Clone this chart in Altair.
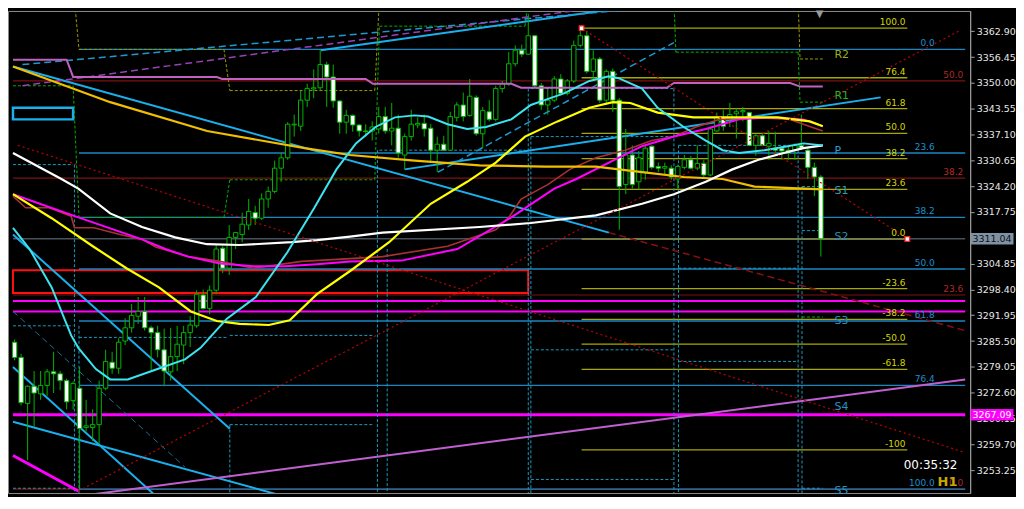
import altair as alt
import pandas as pd

# ---------------- candles (H1) ----------------
opens = [3285.2, 3281.4, 3269.9, 3274.2, 3272.3, 3274.4, 3277.8, 3277.3, 3275.6, 3270.6,
         3273.7, 3263.9, 3263.9, 3264.6, 3273.7, 3280.2, 3278.7, 3285.5, 3288.8, 3291.7,
         3292.9, 3288.8, 3287.6, 3283.3, 3277.8, 3281.6, 3284.5, 3287.6, 3289.3, 3297.0,
         3293.6, 3298.2, 3308.7, 3303.7, 3311.4, 3312.1, 3314.5, 3317.6, 3316.2, 3321.0,
         3322.9, 3328.7, 3331.3, 3339.5, 3339.2, 3345.7, 3348.5, 3348.8, 3354.6, 3351.5,
         3345.5, 3340.2, 3341.9, 3339.5, 3338.0, 3338.0, 3338.5, 3341.6, 3338.0, 3338.7,
         3332.0, 3336.6, 3339.5, 3339.9, 3338.7, 3333.2, 3334.7, 3333.2, 3341.4, 3344.5,
         3341.9, 3346.4, 3337.3, 3342.8, 3340.9, 3348.6, 3349.8, 3354.8, 3358.2, 3357.2,
         3361.8, 3349.3, 3344.5, 3345.7, 3351.0, 3347.4, 3350.5, 3359.4, 3361.8, 3352.9,
         3356.0, 3345.7, 3352.9, 3345.7, 3324.6, 3332.0, 3325.3, 3327.7, 3334.2, 3329.1,
         3328.7, 3328.7, 3326.0, 3328.9, 3330.8, 3328.7, 3329.9, 3327.0, 3338.0, 3341.4,
         3341.4, 3342.3, 3342.8, 3342.6, 3334.4, 3336.8, 3334.2, 3333.7, 3333.7, 3333.2,
         3333.2, 3334.4, 3333.2, 3328.9, 3326.5]
highs = [3285.9, 3282.3, 3274.4, 3278.0, 3278.0, 3278.5, 3282.8, 3278.0, 3276.1, 3275.4,
         3279.0, 3270.8, 3268.4, 3275.6, 3283.3, 3282.8, 3286.2, 3291.2, 3294.8, 3296.5,
         3296.5, 3289.3, 3289.3, 3288.6, 3288.8, 3289.3, 3289.3, 3291.7, 3298.2, 3298.4,
         3299.4, 3309.7, 3309.2, 3314.5, 3312.6, 3317.6, 3321.0, 3319.3, 3322.4, 3324.1,
         3330.6, 3332.5, 3340.2, 3342.1, 3348.1, 3349.8, 3353.4, 3358.2, 3355.3, 3354.6,
         3345.7, 3343.3, 3342.1, 3339.7, 3339.7, 3340.4, 3344.0, 3344.0, 3345.0, 3342.1,
         3337.3, 3343.3, 3341.4, 3342.1, 3339.7, 3336.6, 3336.8, 3342.8, 3345.2, 3347.6,
         3351.0, 3346.9, 3344.0, 3345.7, 3349.3, 3350.5, 3357.7, 3359.4, 3359.6, 3367.3,
         3362.0, 3350.0, 3348.6, 3351.7, 3352.2, 3351.0, 3360.6, 3363.7, 3363.0, 3358.2,
         3356.5, 3353.4, 3353.6, 3346.2, 3338.5, 3334.4, 3333.0, 3334.4, 3334.4, 3330.1,
         3330.1, 3329.4, 3329.6, 3332.0, 3331.8, 3334.4, 3330.8, 3339.0, 3342.6, 3343.3,
         3345.0, 3343.8, 3344.0, 3342.8, 3337.3, 3337.3, 3338.0, 3337.8, 3334.2, 3334.4,
         3334.9, 3342.1, 3333.7, 3330.1, 3327.0]
lows = [3280.7, 3269.4, 3255.7, 3264.1, 3270.8, 3271.8, 3272.5, 3273.2, 3268.4, 3268.4,
        3248.5, 3262.9, 3260.5, 3259.8, 3273.2, 3277.3, 3277.3, 3284.5, 3287.6, 3289.8,
        3288.1, 3278.0, 3281.4, 3274.2, 3275.6, 3278.0, 3279.7, 3284.0, 3288.8, 3293.4,
        3292.2, 3297.2, 3302.5, 3302.0, 3308.5, 3310.2, 3313.3, 3314.5, 3315.7, 3318.8,
        3322.4, 3325.3, 3330.8, 3336.6, 3338.0, 3344.0, 3346.2, 3348.1, 3344.0, 3343.8,
        3337.3, 3337.3, 3337.8, 3336.6, 3336.6, 3335.6, 3337.3, 3337.3, 3334.4, 3331.3,
        3328.4, 3335.6, 3338.7, 3336.6, 3330.1, 3327.7, 3333.0, 3333.0, 3340.4, 3340.4,
        3341.6, 3336.8, 3333.7, 3340.4, 3340.4, 3347.6, 3349.3, 3354.1, 3356.5, 3357.0,
        3348.8, 3343.3, 3342.1, 3345.2, 3346.9, 3346.9, 3350.0, 3358.9, 3352.4, 3350.5,
        3345.0, 3344.5, 3342.8, 3313.3, 3322.2, 3323.6, 3323.4, 3325.8, 3328.4, 3327.7,
        3327.0, 3325.8, 3323.6, 3328.4, 3328.4, 3328.2, 3326.5, 3326.7, 3337.8, 3338.0,
        3339.0, 3336.1, 3340.4, 3334.2, 3331.8, 3334.2, 3330.8, 3332.0, 3330.8, 3330.8,
        3330.8, 3333.2, 3326.0, 3321.7, 3306.6]
closes = [3281.4, 3270.1, 3274.2, 3272.5, 3274.4, 3277.8, 3277.3, 3275.6, 3270.3, 3274.9,
          3263.6, 3264.3, 3264.6, 3273.7, 3280.4, 3278.7, 3285.2, 3288.8, 3291.9, 3292.9,
          3288.8, 3287.6, 3283.3, 3278.0, 3281.6, 3284.7, 3287.6, 3289.5, 3297.2, 3293.6,
          3298.2, 3308.5, 3303.7, 3311.4, 3312.6, 3314.7, 3317.9, 3316.2, 3321.0, 3322.9,
          3328.7, 3331.3, 3339.7, 3339.7, 3345.7, 3348.6, 3348.8, 3354.6, 3351.5, 3345.5,
          3340.2, 3341.9, 3339.5, 3338.0, 3337.9, 3339.0, 3341.6, 3338.0, 3338.7, 3332.5,
          3336.6, 3339.7, 3339.9, 3338.5, 3333.2, 3334.7, 3333.2, 3341.6, 3344.5, 3341.6,
          3346.7, 3337.3, 3343.1, 3340.9, 3348.6, 3349.8, 3354.8, 3358.2, 3357.2, 3361.8,
          3349.3, 3344.5, 3345.7, 3351.0, 3347.4, 3350.5, 3359.4, 3361.8, 3352.9, 3356.0,
          3345.7, 3352.9, 3345.7, 3324.1, 3332.0, 3324.6, 3331.3, 3333.7, 3328.9, 3328.7,
          3329.1, 3326.5, 3329.1, 3330.8, 3328.7, 3329.9, 3327.0, 3338.5, 3341.4, 3339.2,
          3342.1, 3342.8, 3343.1, 3334.4, 3336.8, 3334.4, 3334.9, 3333.2, 3333.0, 3332.5,
          3334.4, 3333.7, 3328.9, 3326.5, 3311.04]

# ---------------- moving averages (bar index, price) ----------------
cyan_x = [-0.25, 2.3, 5.7, 8.7, 9.8, 12.5, 14.7, 17.4, 21.1, 26.2, 28.6, 30.7, 32.6, 37.1, 42.0,
          46.1, 49.5, 52.5, 55.5, 58.5, 61.5, 63.6, 66.6, 69.6, 72.5, 76.4, 79.4, 81.5, 84.5,
          88.4, 91.4, 92.9, 96.5, 98.9, 102.9, 106.3, 108.9, 111.4, 115.3, 118.9, 121.3, 124.3]
cyan_p = [3313.8, 3308.5, 3298.9, 3286.9, 3283.8, 3278.5, 3275.9, 3275.9, 3278.0, 3280.9, 3283.8,
          3287.6, 3291.0, 3296.5, 3307.8, 3318.8, 3328.4, 3334.9, 3339.0, 3341.4, 3341.9, 3341.6,
          3339.7, 3338.5, 3339.0, 3340.9, 3344.5, 3345.7, 3347.4, 3350.5, 3351.7, 3351.2, 3348.6,
          3343.8, 3339.0, 3335.6, 3333.2, 3332.5, 3333.2, 3334.2, 3334.9, 3334.4]
yellow_x = [-0.25, 5.7, 12.2, 17.2, 22.2, 27.1, 31.1, 34.6, 39.1, 42.3, 46.5, 51.6, 57.6, 64.0,
            69.6, 74.0, 78.5, 83.5, 88.4, 92.0, 94.7, 98.9, 104.4, 117.4, 122.3, 124.3]
yellow_p = [3322.2, 3316.2, 3309.0, 3303.7, 3298.9, 3292.9, 3290.5, 3289.8, 3289.5, 3290.7,
            3297.2, 3303.0, 3310.2, 3319.8, 3325.3, 3330.1, 3336.6, 3340.4, 3343.8, 3345.2,
            3345.0, 3342.6, 3341.4, 3341.4, 3340.4, 3339.2]
gold_x = [-0.25, 14.7, 29.6, 44.6, 51.6, 61.5, 71.5, 81.5, 89.4, 96.5, 102.9, 108.9, 113.8, 124.3]
gold_p = [3354.1, 3345.2, 3338.0, 3333.7, 3332.0, 3330.6, 3329.4, 3329.1, 3329.1, 3327.7,
          3326.5, 3326.0, 3324.1, 3323.4]
mag_x = [-0.25, 9.8, 19.6, 23.2, 26.7, 31.6, 36.7, 41.6, 46.5, 51.6, 59.5, 68.1, 76.4, 83.0,
         86.4, 91.4, 96.5, 101.4, 106.3, 111.4, 116.3, 121.3, 124.3]
mag_p = [3322.2, 3316.4, 3310.9, 3308.5, 3306.6, 3304.9, 3304.2, 3304.2, 3304.7, 3305.4, 3305.6,
         3308.5, 3316.4, 3323.6, 3326.0, 3330.1, 3334.2, 3336.6, 3338.5, 3340.9, 3341.4, 3340.9,
         3339.2]
brown_x = [-0.25, 1.7, 5.3, 8.7, 9.2, 12.2, 16.2, 19.6, 21.7, 26.7, 31.6, 36.7, 44.1, 51.6, 56.6,
           66.6, 69.6, 74.0, 76.0, 77.9, 82.0, 85.4, 89.4, 93.9, 98.0, 101.4, 104.8, 108.4,
           113.4, 119.3, 121.3, 124.3]
brown_p = [3321.7, 3318.8, 3318.8, 3316.7, 3313.8, 3313.8, 3312.1, 3310.9, 3309.0, 3306.6,
           3305.4, 3303.7, 3305.4, 3306.1, 3306.6, 3309.2, 3310.9, 3313.3, 3316.4, 3321.0,
           3324.6, 3328.4, 3331.3, 3333.2, 3335.6, 3336.6, 3339.0, 3340.9, 3341.4, 3340.9,
           3339.7, 3338.0]
white_x = [-0.25, 7.2, 9.8, 14.7, 19.6, 24.7, 29.6, 34.6, 42.6, 46.5, 51.6, 56.6, 71.5, 79.4,
           89.4, 96.5, 101.4, 106.3, 110.4, 114.4, 118.3, 121.3, 124.3]
white_p = [3332.5, 3326.0, 3323.6, 3317.4, 3314.0, 3311.4, 3309.7, 3309.5, 3310.2, 3310.7,
           3311.6, 3312.6, 3314.0, 3315.0, 3316.9, 3319.8, 3322.2, 3325.3, 3328.4, 3330.8,
           3332.5, 3333.7, 3334.4]
violet_x = [-0.25, 8.0, 9.0, 31.1, 31.9, 54.0, 55.1, 76.4, 77.9, 100.3, 101.4, 119.3, 120.8, 124.3]
violet_p = [3355.8, 3355.8, 3351.5, 3351.5, 3351.0, 3351.0, 3349.8, 3349.8, 3348.8, 3348.8,
            3350.0, 3350.0, 3349.1, 3349.1]

# ---------------- trend lines [x1, p1, x2, p2] ----------------
blue_trend = [[-0.25, 3354.1, 91.4, 3312.6], [60.0, 3328.4, 133.2, 3346.4],
              [47.1, 3358.2, 92.4, 3368.5], [-0.25, 3312.1, 33.1, 3263.6],
              [-0.25, 3279.0, 21.7, 3246.8], [-0.25, 3265.3, 41.2, 3246.8]]
blue_dash = [[1.2, 3354.6, 95.4, 3368.5], [65.1, 3327.7, 101.4, 3360.1]]
teal_thin_dash = [[-0.25, 3292.9, 26.2, 3254.0]]
purple_dash = [[1.2, 3349.3, 88.0, 3368.5]]
violet_trend = [[10.2, 3246.8, 146.2, 3275.9]]
magenta_trend = [[-0.25, 3256.9, 9.8, 3248.0]]
red_dotted = [[0.5, 3334.4, 146.2, 3257.6], [9.8, 3248.0, 145.5, 3363.2],
              [87.2, 3363.7, 137.3, 3311.1]]
darkred_dash = [[91.4, 3312.6, 146.2, 3288.1]]

# ---------------- Fibonacci levels ----------------
blue_fib_p = [3358.4, 3332.5, 3316.4, 3303.5, 3290.5, 3274.4, 3248.5]
blue_fib_t = ["0.0", "23.6", "38.2", "50.0", "61.8", "76.4", "100.0"]
yel_fib_p = [3363.7, 3351.3, 3343.6, 3337.4, 3331.1, 3323.4, 3311.0, 3298.6, 3290.9, 3284.7,
             3278.4, 3258.3]
yel_fib_t = ["100.0", "76.4", "61.8", "50.0", "38.2", "23.6", "0.0", "-23.6", "-38.2", "-50.0",
             "-61.8", "-100"]
red_fib_p = [3350.5, 3326.2, 3297.0, 3248.5]
red_fib_t = ["50.0", "38.2", "23.6", "0.0"]
magenta_levels = [3295.5, 3292.9]
hline_level = 3267.09
bid_price = 3311.04

# ---------------- pivot step lines ----------------
olive_segs = [[9.2, 3370.9, 9.9, 3358.4], [9.9, 3358.4, 32.2, 3358.4], [32.2, 3358.4, 33.1, 3348.1],
              [33.1, 3348.1, 55.4, 3348.1], [55.4, 3348.1, 56.1, 3370.9],
              [120.5, 3370.9, 120.8, 3356.0], [120.8, 3356.0, 124.3, 3356.0]]
green_segs = [[-0.25, 3349.3, 9.0, 3349.3], [9.0, 3349.3, 9.9, 3316.4], [9.9, 3316.4, 32.2, 3316.4],
              [32.2, 3316.4, 33.1, 3325.8], [33.1, 3325.8, 55.4, 3325.8], [55.4, 3325.8, 56.1, 3364.2],
              [56.1, 3364.2, 78.5, 3364.2], [78.5, 3364.2, 79.0, 3370.9], [101.4, 3370.9, 101.7, 3357.7],
              [101.7, 3357.7, 120.5, 3357.7], [120.5, 3357.7, 120.8, 3345.2], [120.8, 3345.2, 124.3, 3345.2],
              [121.1, 3291.5, 124.3, 3291.5]]
teal_segs = [[-0.25, 3329.6, 9.0, 3329.6], [-0.25, 3289.3, 9.0, 3289.3], [-0.25, 3248.7, 9.0, 3248.7],
             [9.9, 3286.4, 32.6, 3286.4], [33.1, 3286.9, 55.1, 3286.9], [33.1, 3264.6, 55.1, 3264.6],
             [56.1, 3333.2, 78.5, 3333.2], [79.4, 3348.6, 101.4, 3348.6], [79.4, 3336.6, 101.4, 3336.6],
             [79.4, 3283.3, 101.4, 3283.3], [79.4, 3250.9, 101.4, 3250.9], [102.1, 3334.4, 120.5, 3334.4],
             [102.1, 3303.7, 120.5, 3303.7], [102.1, 3280.4, 120.5, 3280.4], [121.1, 3324.1, 124.3, 3324.1],
             [121.1, 3313.1, 124.3, 3313.1], [121.1, 3248.7, 124.3, 3248.7],
             [9.2, 3329.6, 9.2, 3246.1], [9.9, 3289.3, 9.9, 3246.1], [33.1, 3264.6, 33.1, 3246.1],
             [55.8, 3333.2, 55.8, 3246.1], [57.3, 3308.5, 57.3, 3246.1], [79.0, 3348.6, 79.0, 3246.1],
             [79.4, 3336.6, 79.4, 3246.1], [101.4, 3348.6, 101.4, 3246.1], [102.1, 3334.4, 102.1, 3246.1],
             [120.5, 3334.4, 120.5, 3246.1], [121.1, 3324.1, 121.1, 3246.1]]
pivot_names = ["R2", "R1", "P", "S1", "S2", "S3", "S4", "S5"]
pivot_label_p = [3357.0, 3346.7, 3333.0, 3322.9, 3311.6, 3290.5, 3269.1, 3248.0]
pivot_colors = ["#9aae22", "#25b525", "#2a9fd6", "#2a9fb8", "#2a90b0", "#2a90c4", "#2a90c4", "#2a90c4"]

red_rect = [[-0.25, 3303.2, 79.0, 3297.5]]
blue_rect = [[-0.25, 3343.8, 9.0, 3340.9]]

y_ticks = [3253.25, 3259.70, 3266.15, 3272.60, 3279.05, 3285.50, 3291.95, 3298.40, 3304.85,
           3311.30, 3317.75, 3324.20, 3330.65, 3337.10, 3343.55, 3350.00, 3356.45, 3362.90]

# ---------------- chart ----------------
W, H = 966, 484
FONT = "DejaVu Sans"
XS = alt.Scale(domain=[-0.25, 146.2], nice=False, zero=False)
YS = alt.Scale(domain=[3247.5, 3368.0], nice=False, zero=False)
YAX = alt.Axis(orient="right", values=y_ticks, format=".2f", title=None, grid=False,
               labelExpr="abs(datum.value - 3311.3) < 0.01 ? '' : format(datum.value, '.2f')",
               labelColor="#e8e8e8", labelFont=FONT, labelFontSize=9.5,
               tickColor="#a0a0a0", tickSize=4, domainColor="#a0a0a0",
               labelPadding=2, labelOverlap=False, labelBound=False, labelFlush=False)


def xq(f):
    return alt.X(f"{f}:Q", scale=XS, axis=None)


def yq(f):
    return alt.Y(f"{f}:Q", scale=YS, axis=YAX)


def polyline(xs, ps, color, width, dash=None):
    df = pd.DataFrame({"x": xs, "p": ps, "k": list(range(len(xs)))})
    kw = dict(color=color, strokeWidth=width, clip=True)
    if dash:
        kw["strokeDash"] = dash
    return alt.Chart(df).mark_line(**kw).encode(x=xq("x"), y=yq("p"), order="k:Q")


def segments(rows, color, width, dash=None):
    df = pd.DataFrame(rows, columns=["x", "p", "x2", "p2"])
    kw = dict(color=color, strokeWidth=width, clip=True)
    if dash:
        kw["strokeDash"] = dash
    return alt.Chart(df).mark_rule(**kw).encode(
        x=xq("x"), y=yq("p"), x2=alt.X2("x2"), y2=alt.Y2("p2"))


def levels(prices, x1, x2, color, width, dash=None):
    return segments([[x1, p, x2, p] for p in prices], color, width, dash)


def rects(rows, color, width):
    df = pd.DataFrame(rows, columns=["x", "p", "x2", "p2"])
    return alt.Chart(df).mark_rect(filled=False, color=color, strokeWidth=width, clip=True).encode(
        x=xq("x"), y=yq("p"), x2=alt.X2("x2"), y2=alt.Y2("p2"))


def texts(xs, ps, ts, color, size, align, baseline, dy=0, weight="normal"):
    df = pd.DataFrame({"x": xs, "p": ps, "t": ts})
    return alt.Chart(df).mark_text(color=color, fontSize=size, font=FONT, align=align,
                                   baseline=baseline, dy=dy, fontWeight=weight).encode(
        x=xq("x"), y=yq("p"), text="t:N")


layers = []
# objects behind
layers.append(levels(red_fib_p, -0.25, 146.2, "#7c1212", 1.2))
layers.append(rects(red_rect, "#ff1010", 2))
layers.append(levels(blue_fib_p, 9.9, 146.2, "#1a86c2", 1.3))
layers.append(levels(yel_fib_p, 87.2, 137.3, "#a8a800", 1.3))
layers.append(levels(magenta_levels, -0.25, 146.2, "#ff00ff", 2))
layers.append(levels([hline_level], -0.25, 146.2, "#ff00ff", 3))
layers.append(levels([bid_price], -0.25, 146.2, "#6c7c8c", 1))
layers.append(rects(blue_rect, "#1ab0ee", 2.5))
layers.append(segments(teal_segs, "#1a9ac0", 1, [3, 2]))
layers.append(segments(green_segs, "#00b000", 1, [3, 2]))
layers.append(segments(olive_segs, "#9a9a00", 1, [3, 2]))
# trend lines
layers.append(segments(blue_trend, "#1ab0ee", 2))
layers.append(segments(blue_dash, "#1a9ad0", 1.5, [7, 4]))
layers.append(segments(teal_thin_dash, "#1a7090", 1, [6, 4]))
layers.append(segments(purple_dash, "#9a40b8", 1.5, [7, 4]))
layers.append(segments(violet_trend, "#c060d0", 2))
layers.append(segments(magenta_trend, "#ff00ff", 3))
layers.append(segments(darkred_dash, "#8a1010", 1.5, [7, 4]))

# candles
bars = pd.DataFrame({"i": list(range(len(opens))), "o": opens, "h": highs, "l": lows, "c": closes})
layers.append(alt.Chart(bars).mark_rule(color="#00b400", strokeWidth=1, clip=True).encode(
    x=xq("i"), y=yq("l"), y2=alt.Y2("h")))
layers.append(alt.Chart(bars).mark_bar(width=4.4, stroke="#00b400", strokeWidth=1, clip=True).encode(
    x=xq("i"), y=yq("o"), y2=alt.Y2("c"),
    fill=alt.condition("datum.c >= datum.o", alt.value("#000000"), alt.value("#ffffff"))))

# indicators
layers.append(polyline(violet_x, violet_p, "#c060c0", 2))
layers.append(polyline(brown_x, brown_p, "#a83232", 1.6))
layers.append(polyline(mag_x, mag_p, "#ff00ff", 2))
layers.append(polyline(gold_x, gold_p, "#f0c000", 2.2))
layers.append(polyline(yellow_x, yellow_p, "#ffff00", 2.2))
layers.append(polyline(white_x, white_p, "#ffffff", 2.2))
layers.append(polyline(cyan_x, cyan_p, "#3ce4f0", 2))
layers.append(segments(red_dotted, "#c00000", 1.2, [2, 3]))

# fib anchor squares
anchors = pd.DataFrame({"x": [87.2, 137.3], "p": [3363.7, 3311.0]})
layers.append(alt.Chart(anchors).mark_square(size=22, fill="#ffffff", stroke="#ff2020",
                                             strokeWidth=1.2, opacity=1).encode(x=xq("x"), y=yq("p")))

# labels
layers.append(texts([141.5] * len(blue_fib_p), blue_fib_p, blue_fib_t, "#1a90d0", 9, "right", "bottom", -1))
layers.append(texts([137.0] * len(yel_fib_p), yel_fib_p, yel_fib_t, "#d8d800", 9, "right", "bottom", -1))
layers.append(texts([145.9] * len(red_fib_p), red_fib_p, red_fib_t, "#b02828", 9, "right", "bottom", -1))
piv = pd.DataFrame({"x": [126.1] * len(pivot_names), "p": pivot_label_p, "t": pivot_names,
                    "col": pivot_colors})
layers.append(alt.Chart(piv).mark_text(fontSize=11, font=FONT, align="left", baseline="middle").encode(
    x=xq("x"), y=yq("p"), text="t:N", color=alt.Color("col:N", scale=None)))
layers.append(texts([145.0], [3254.6], ["00:35:32"], "#ffffff", 12, "right", "middle"))
layers.append(texts([145.0], [3250.3], ["H1"], "#c8a800", 13, "right", "middle", 0, "bold"))
layers.append(texts([123.8], [3367.2], ["▼"], "#9a9a9a", 10, "center", "middle"))

# price tags on the axis
BOX = "M-1,-0.27L1,-0.27L1,0.27L-1,0.27Z"
tags = pd.DataFrame({"p": [bid_price, hline_level], "t": ["3311.04", "3267.09"],
                     "bg": ["#7f92a4", "#ff00ff"], "fg": ["#101010", "#ffffff"]})
layers.append(alt.Chart(tags).mark_point(shape=BOX, size=1849, filled=True, opacity=1).encode(
    x=alt.value(W + 22), y=yq("p"), fill=alt.Fill("bg:N", scale=None)))
layers.append(alt.Chart(tags).mark_text(fontSize=9.5, font=FONT, align="center", baseline="middle").encode(
    x=alt.value(W + 22), y=yq("p"), text="t:N", color=alt.Color("fg:N", scale=None)))

chart = alt.layer(*layers).properties(width=W, height=H, padding=0).configure(
    background="#000000").configure_view(stroke="#8c8c8c", strokeWidth=1, fill="#000000")

chart.save("out.html", embed_options={"renderer": "svg", "actions": False})
